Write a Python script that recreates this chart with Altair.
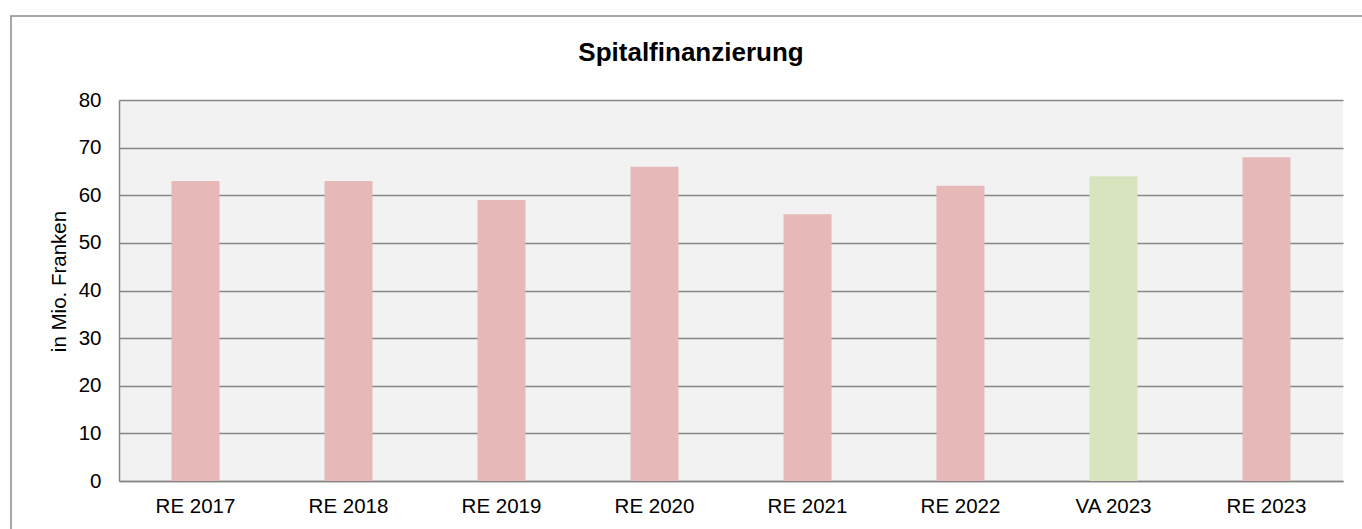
import altair as alt
import pandas as pd

categories = ["RE 2017", "RE 2018", "RE 2019", "RE 2020", "RE 2021", "RE 2022", "VA 2023", "RE 2023"]
values = [63, 63, 59, 66, 56, 62, 64, 68]
kinds = ["RE", "RE", "RE", "RE", "RE", "RE", "VA", "RE"]
y_ticks = [0, 10, 20, 30, 40, 50, 60, 70, 80]
title_text = "Spitalfinanzierung"
y_title = "in Mio. Franken"

FONT = "Liberation Sans"
df = pd.DataFrame({"cat": categories, "val": values, "kind": kinds})

p_in = 1 - 48 / 153

bars = alt.Chart(df).mark_bar().encode(
    x=alt.X("cat:N", sort=categories,
            scale=alt.Scale(paddingInner=p_in, paddingOuter=p_in / 2),
            axis=alt.Axis(title=None, labelAngle=0, ticks=False, tickSize=0,
                          labelPadding=15, labelFontSize=20.5, labelFont=FONT,
                          labelColor="#000000", domain=True, domainColor="#868686",
                          domainWidth=1.5, grid=False)),
    y=alt.Y("val:Q", scale=alt.Scale(domain=[0, 80], nice=False),
            axis=alt.Axis(values=y_ticks, title=y_title, ticks=False, tickSize=0,
                          labelPadding=18, labelFontSize=20.5, labelFont=FONT,
                          labelColor="#000000", titleFont=FONT, titleFontSize=20.5,
                          titleFontWeight="normal", titleColor="#000000",
                          titleX=-54, titleY=181, titleBaseline="alphabetic",
                          titleAngle=270, titleAlign="center",
                          grid=True, gridColor="#868686", gridWidth=1.5,
                          domain=True, domainColor="#868686", domainWidth=1.5)),
    color=alt.Color("kind:N", scale=alt.Scale(domain=["RE", "VA"], range=["#e6b8b7", "#d7e4bd"]),
                    legend=None),
)

border = alt.Chart(alt.Data(values=[{}])).mark_rect(
    fillOpacity=0, stroke="#8a8a8a", strokeWidth=1.5
).encode(
    x=alt.value(-108), x2=alt.value(1252), y=alt.value(-84), y2=alt.value(470)
)

title = alt.Chart(pd.DataFrame({"t": [title_text]})).mark_text(
    font=FONT, fontSize=26, fontWeight="bold", color="#000000",
    align="center", baseline="alphabetic"
).encode(x=alt.value(572), y=alt.value(-39), text="t:N")

chart = alt.layer(bars, border, title).properties(
    width=1224, height=381,
    autosize=alt.AutoSizeParams(type="none"),
    padding={"left": 119, "top": 100, "right": 19, "bottom": 48},
    background="#ffffff",
).configure_view(fill="#f2f2f2", stroke=None)

chart.save("out.html", embed_options={"renderer": "svg", "actions": False})
